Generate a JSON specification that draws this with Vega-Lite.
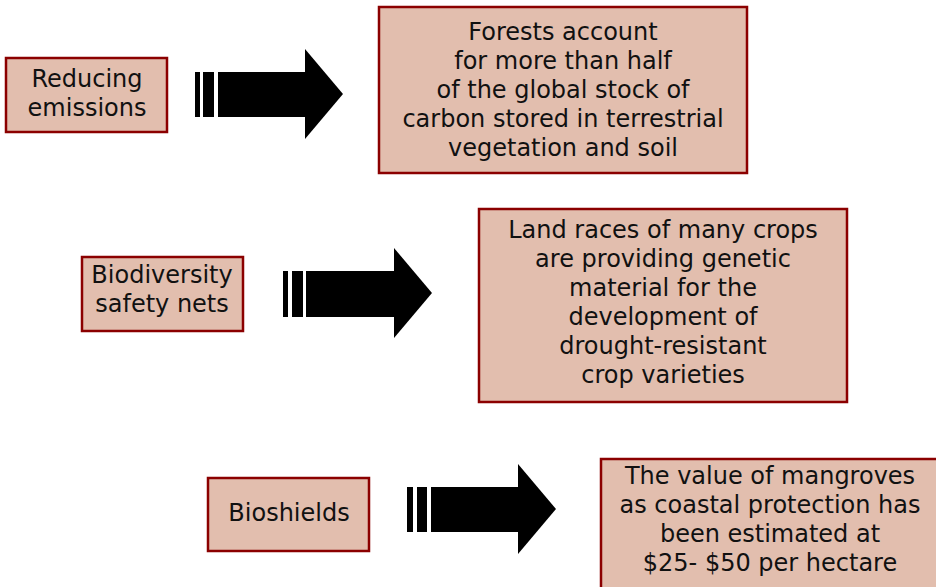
{
  "$schema": "https://vega.github.io/schema/vega-lite/v6.json",
  "width": 936,
  "height": 587,
  "autosize": {"type": "fit", "contains": "padding"},
  "padding": 0,
  "background": "white",
  "config": {"view": {"stroke": null}},
  "datasets": {
    "boxes": [
      {"id": "b1", "x1": 6, "x2": 167, "y1": 58, "y2": 132},
      {"id": "b2", "x1": 379, "x2": 747, "y1": 7, "y2": 173},
      {"id": "b3", "x1": 82, "x2": 243, "y1": 257, "y2": 331},
      {"id": "b4", "x1": 479, "x2": 847, "y1": 209, "y2": 402},
      {"id": "b5", "x1": 208, "x2": 369, "y1": 478, "y2": 551},
      {"id": "b6", "x1": 601, "x2": 945, "y1": 459, "y2": 600}
    ],
    "bars": [
      {"arrow": "a1", "x1": 195, "x2": 200, "y1": 72, "y2": 117},
      {"arrow": "a1", "x1": 203, "x2": 214, "y1": 72, "y2": 117},
      {"arrow": "a1", "x1": 218, "x2": 306, "y1": 72, "y2": 117},
      {"arrow": "a2", "x1": 283, "x2": 288, "y1": 271, "y2": 317},
      {"arrow": "a2", "x1": 292, "x2": 303, "y1": 271, "y2": 317},
      {"arrow": "a2", "x1": 306, "x2": 395, "y1": 271, "y2": 317},
      {"arrow": "a3", "x1": 407, "x2": 413, "y1": 487, "y2": 532},
      {"arrow": "a3", "x1": 417, "x2": 427, "y1": 487, "y2": 532},
      {"arrow": "a3", "x1": 431, "x2": 519, "y1": 487, "y2": 532}
    ],
    "heads": [
      {"arrow": "a1", "x": 305, "top": 49, "bottom": 139},
      {"arrow": "a1", "x": 343, "top": 94, "bottom": 94},
      {"arrow": "a2", "x": 394, "top": 248, "bottom": 338},
      {"arrow": "a2", "x": 432, "top": 293, "bottom": 293},
      {"arrow": "a3", "x": 518, "top": 464, "bottom": 554},
      {"arrow": "a3", "x": 556, "top": 509, "bottom": 509}
    ],
    "labels": [
      {"x": 87, "y": 80, "text": "Reducing\nemissions"},
      {"x": 563, "y": 33, "text": "Forests account\nfor more than half\nof the global stock of\ncarbon stored in terrestrial\nvegetation and soil"},
      {"x": 162, "y": 276, "text": "Biodiversity\nsafety nets"},
      {"x": 663, "y": 231, "text": "Land races of many crops\nare providing genetic\nmaterial for the\ndevelopment of\ndrought-resistant\ncrop varieties"},
      {"x": 289, "y": 514, "text": "Bioshields"},
      {"x": 770, "y": 477, "text": "The value of mangroves\nas coastal protection has\nbeen estimated at\n$25- $50 per hectare"}
    ]
  },
  "layer": [
    {
      "data": {"name": "boxes"},
      "mark": {"type": "rect", "fill": "#E2BEAE", "stroke": "#8B0000", "strokeWidth": 2.5, "clip": true},
      "encoding": {
        "x": {"field": "x1", "type": "quantitative", "scale": {"domain": [0, 936], "nice": false, "zero": false}, "axis": null},
        "x2": {"field": "x2"},
        "y": {"field": "y1", "type": "quantitative", "scale": {"domain": [587, 0], "nice": false, "zero": false}, "axis": null},
        "y2": {"field": "y2"}
      }
    },
    {
      "data": {"name": "bars"},
      "mark": {"type": "rect", "fill": "#000000"},
      "encoding": {
        "x": {"field": "x1", "type": "quantitative"},
        "x2": {"field": "x2"},
        "y": {"field": "y1", "type": "quantitative"},
        "y2": {"field": "y2"}
      }
    },
    {
      "data": {"name": "heads"},
      "mark": {"type": "area", "fill": "#000000", "orient": "vertical"},
      "encoding": {
        "x": {"field": "x", "type": "quantitative"},
        "y": {"field": "top", "type": "quantitative"},
        "y2": {"field": "bottom"},
        "detail": {"field": "arrow", "type": "nominal"}
      }
    },
    {
      "data": {"name": "labels"},
      "mark": {"type": "text", "font": "DejaVu Sans", "fontSize": 24, "lineHeight": 29, "lineBreak": "\n", "align": "center", "baseline": "middle", "color": "#111111"},
      "encoding": {
        "x": {"field": "x", "type": "quantitative"},
        "y": {"field": "y", "type": "quantitative"},
        "text": {"field": "text", "type": "nominal"}
      }
    }
  ]
}
